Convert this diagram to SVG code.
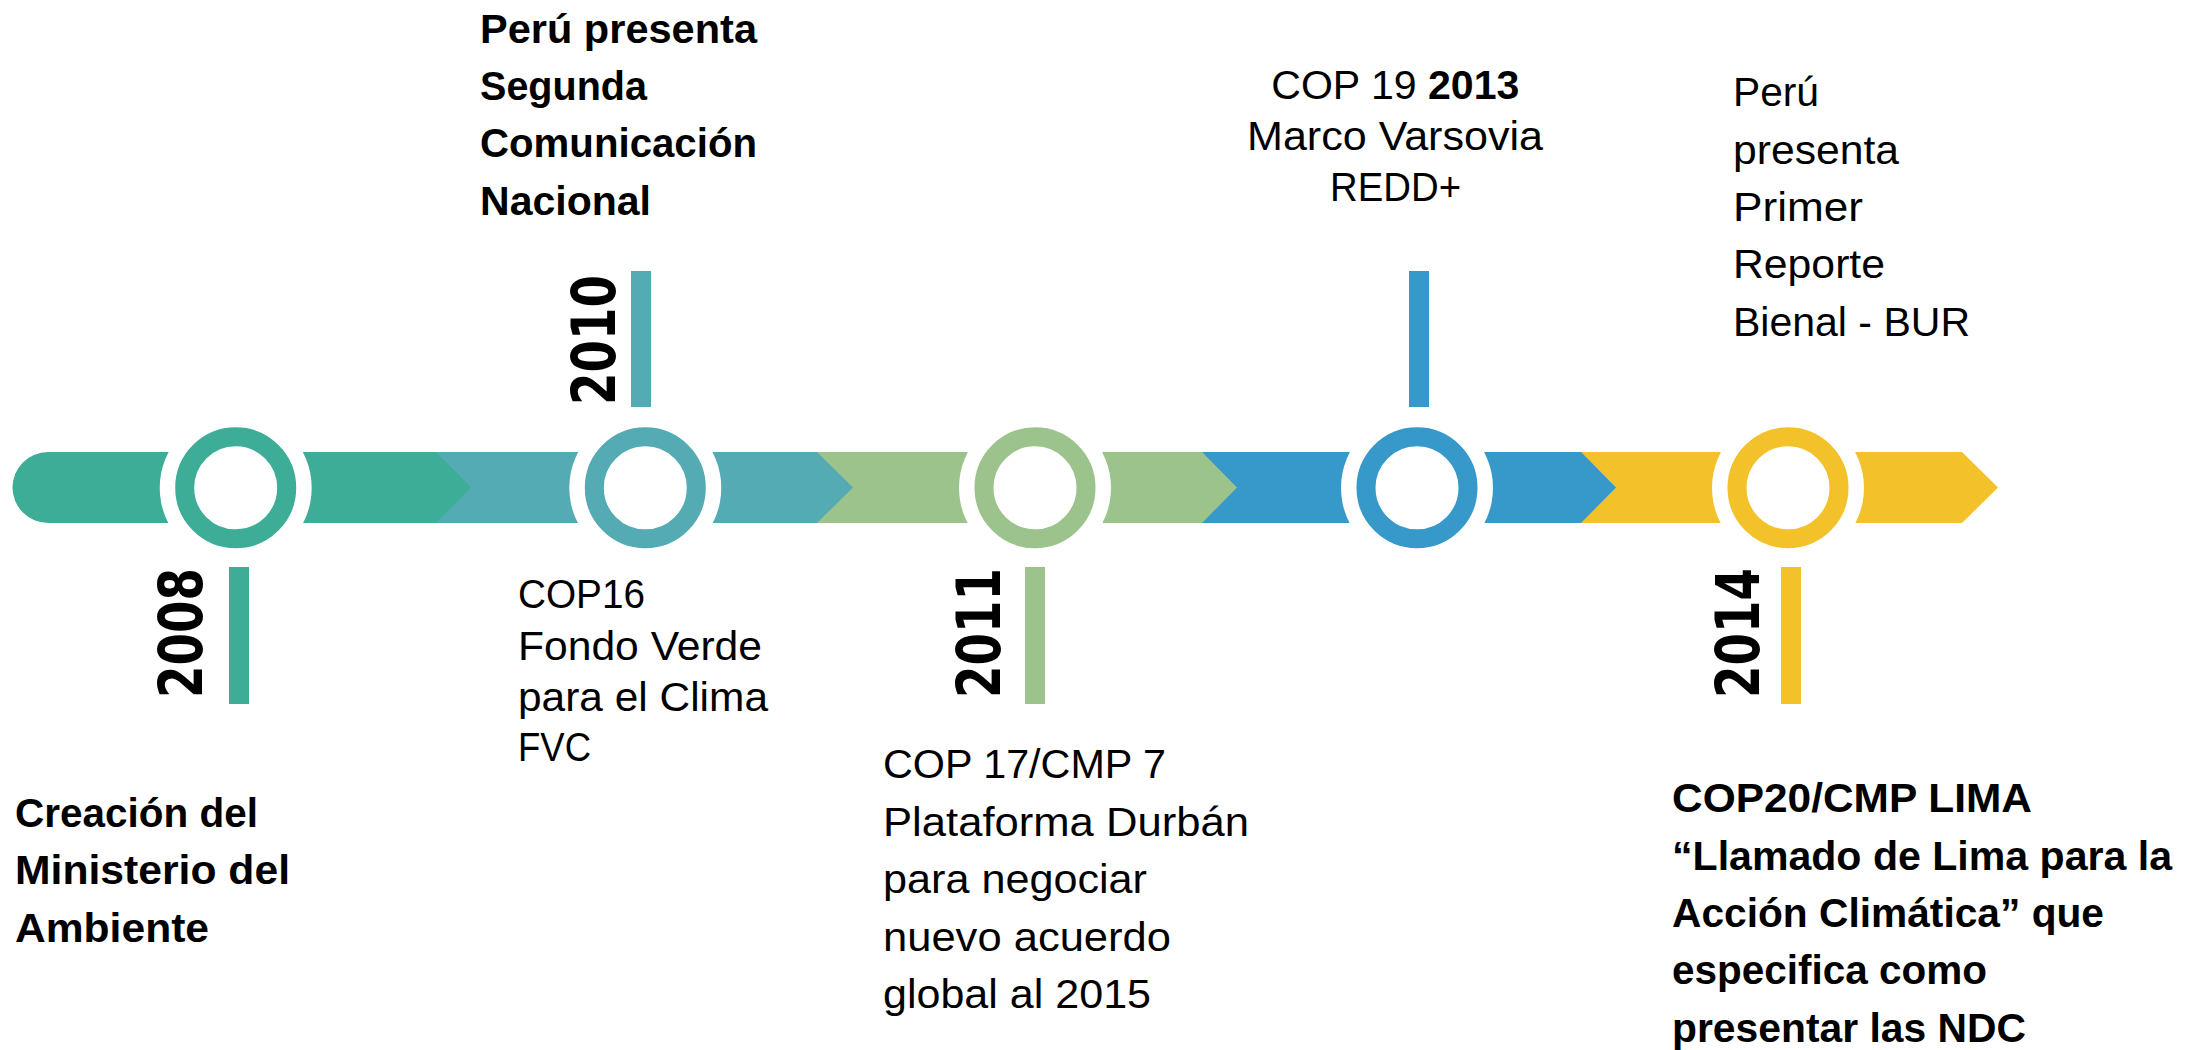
<svg xmlns="http://www.w3.org/2000/svg" width="2187" height="1050" viewBox="0 0 2187 1050">
<style>
.t{font-family:"Liberation Sans",Arial,sans-serif;font-size:40px;fill:#000}
.b{font-weight:bold}
.yr{font-family:"DejaVu Sans Condensed","DejaVu Sans",sans-serif;font-weight:bold;font-size:60px;fill:#000}
.gap{fill:#fff}
.ring{fill:#fff;stroke-width:19}
</style>
<rect width="2187" height="1050" fill="#fff"/>
<g id="timeline">
  <polygon points="1581,452 1962,452 1998,487.5 1962,523 1581,523" fill="#F3C22A"/>
  <polygon points="1202,452 1581,452 1616,487.5 1581,523 1202,523" fill="#3699CA"/>
  <polygon points="817,452 1202,452 1237,487.5 1202,523 817,523" fill="#9DC38C"/>
  <polygon points="436,452 817,452 853,487.5 817,523 436,523" fill="#54ABB3"/>
  <path d="M48,452 L436,452 L471,487.5 L436,523 L48,523 A35.5,35.5 0 0 1 48,452 Z" fill="#3DAD98"/>
</g>
<g id="node-2008">
  <circle class="gap" cx="235.7" cy="487.8" r="76"/>
  <circle class="ring" cx="235.7" cy="487.8" r="51" stroke="#3DAD98"/>
  <rect x="229" y="567" width="20" height="137" fill="#3DAD98"/>
  <text class="yr" x="202" y="698" transform="rotate(-90 202 698)" textLength="130" lengthAdjust="spacingAndGlyphs">2008</text>
  <text class="t b" x="15" y="827" textLength="243" lengthAdjust="spacingAndGlyphs">Creación del</text>
  <text class="t b" x="15" y="884" textLength="275" lengthAdjust="spacingAndGlyphs">Ministerio del</text>
  <text class="t b" x="15" y="942" textLength="194" lengthAdjust="spacingAndGlyphs">Ambiente</text>
</g>
<g id="node-2010">
  <circle class="gap" cx="645.3" cy="487.8" r="76"/>
  <circle class="ring" cx="645.3" cy="487.8" r="51" stroke="#54ABB3"/>
  <rect x="631" y="271" width="20" height="136" fill="#54ABB3"/>
  <text class="yr" x="615" y="405" transform="rotate(-90 615 405)" textLength="130" lengthAdjust="spacingAndGlyphs">2010</text>
  <text class="t b" x="480" y="43" textLength="277" lengthAdjust="spacingAndGlyphs">Perú presenta</text>
  <text class="t b" x="480" y="100" textLength="167" lengthAdjust="spacingAndGlyphs">Segunda</text>
  <text class="t b" x="480" y="157" textLength="277" lengthAdjust="spacingAndGlyphs">Comunicación</text>
  <text class="t b" x="480" y="215" textLength="171" lengthAdjust="spacingAndGlyphs">Nacional</text>
  <text class="t" x="518" y="608" textLength="127" lengthAdjust="spacingAndGlyphs">COP16</text>
  <text class="t" x="518" y="660" textLength="244" lengthAdjust="spacingAndGlyphs">Fondo Verde</text>
  <text class="t" x="518" y="711" textLength="250" lengthAdjust="spacingAndGlyphs">para el Clima</text>
  <text class="t" x="518" y="761" textLength="73" lengthAdjust="spacingAndGlyphs">FVC</text>
</g>
<g id="node-2011">
  <circle class="gap" cx="1035" cy="487.8" r="76"/>
  <circle class="ring" cx="1035" cy="487.8" r="51" stroke="#9DC38C"/>
  <rect x="1025" y="567" width="20" height="137" fill="#9DC38C"/>
  <text class="yr" x="1000" y="698" transform="rotate(-90 1000 698)" textLength="130" lengthAdjust="spacingAndGlyphs">2011</text>
  <text class="t" x="883" y="778" textLength="283" lengthAdjust="spacingAndGlyphs">COP 17/CMP 7</text>
  <text class="t" x="883" y="836" textLength="366" lengthAdjust="spacingAndGlyphs">Plataforma Durbán</text>
  <text class="t" x="883" y="893" textLength="264" lengthAdjust="spacingAndGlyphs">para negociar</text>
  <text class="t" x="883" y="951" textLength="288" lengthAdjust="spacingAndGlyphs">nuevo acuerdo</text>
  <text class="t" x="883" y="1008" textLength="268" lengthAdjust="spacingAndGlyphs">global al 2015</text>
</g>
<g id="node-2013">
  <circle class="gap" cx="1417" cy="487.8" r="76"/>
  <circle class="ring" cx="1417" cy="487.8" r="51" stroke="#3699CA"/>
  <rect x="1409" y="271" width="20" height="136" fill="#3699CA"/>
  <text class="t" x="1395.3" y="99" text-anchor="middle" textLength="248" lengthAdjust="spacingAndGlyphs">COP 19 <tspan class="b">2013</tspan></text>
  <text class="t" x="1395" y="150" text-anchor="middle" textLength="296" lengthAdjust="spacingAndGlyphs">Marco Varsovia</text>
  <text class="t" x="1395.6" y="201" text-anchor="middle" textLength="131" lengthAdjust="spacingAndGlyphs">REDD+</text>
</g>
<g id="node-2014">
  <circle class="gap" cx="1788" cy="487.8" r="76"/>
  <circle class="ring" cx="1788" cy="487.8" r="51" stroke="#F3C22A"/>
  <rect x="1781" y="567" width="20" height="137" fill="#F3C22A"/>
  <text class="yr" x="1759" y="698" transform="rotate(-90 1759 698)" textLength="130" lengthAdjust="spacingAndGlyphs">2014</text>
  <text class="t" x="1733" y="106" textLength="86" lengthAdjust="spacingAndGlyphs">Perú</text>
  <text class="t" x="1733" y="164" textLength="166" lengthAdjust="spacingAndGlyphs">presenta</text>
  <text class="t" x="1733" y="221" textLength="130" lengthAdjust="spacingAndGlyphs">Primer</text>
  <text class="t" x="1733" y="278" textLength="152" lengthAdjust="spacingAndGlyphs">Reporte</text>
  <text class="t" x="1733" y="336" textLength="237" lengthAdjust="spacingAndGlyphs">Bienal - BUR</text>
  <text class="t b" x="1672" y="812" textLength="360" lengthAdjust="spacingAndGlyphs">COP20/CMP LIMA</text>
  <text class="t b" x="1672" y="870" textLength="500" lengthAdjust="spacingAndGlyphs">“Llamado de Lima para la</text>
  <text class="t b" x="1672" y="927" textLength="432" lengthAdjust="spacingAndGlyphs">Acción Climática” que</text>
  <text class="t b" x="1672" y="984" textLength="315" lengthAdjust="spacingAndGlyphs">especifica como</text>
  <text class="t b" x="1672" y="1042" textLength="354" lengthAdjust="spacingAndGlyphs">presentar las NDC</text>
</g>
</svg>
